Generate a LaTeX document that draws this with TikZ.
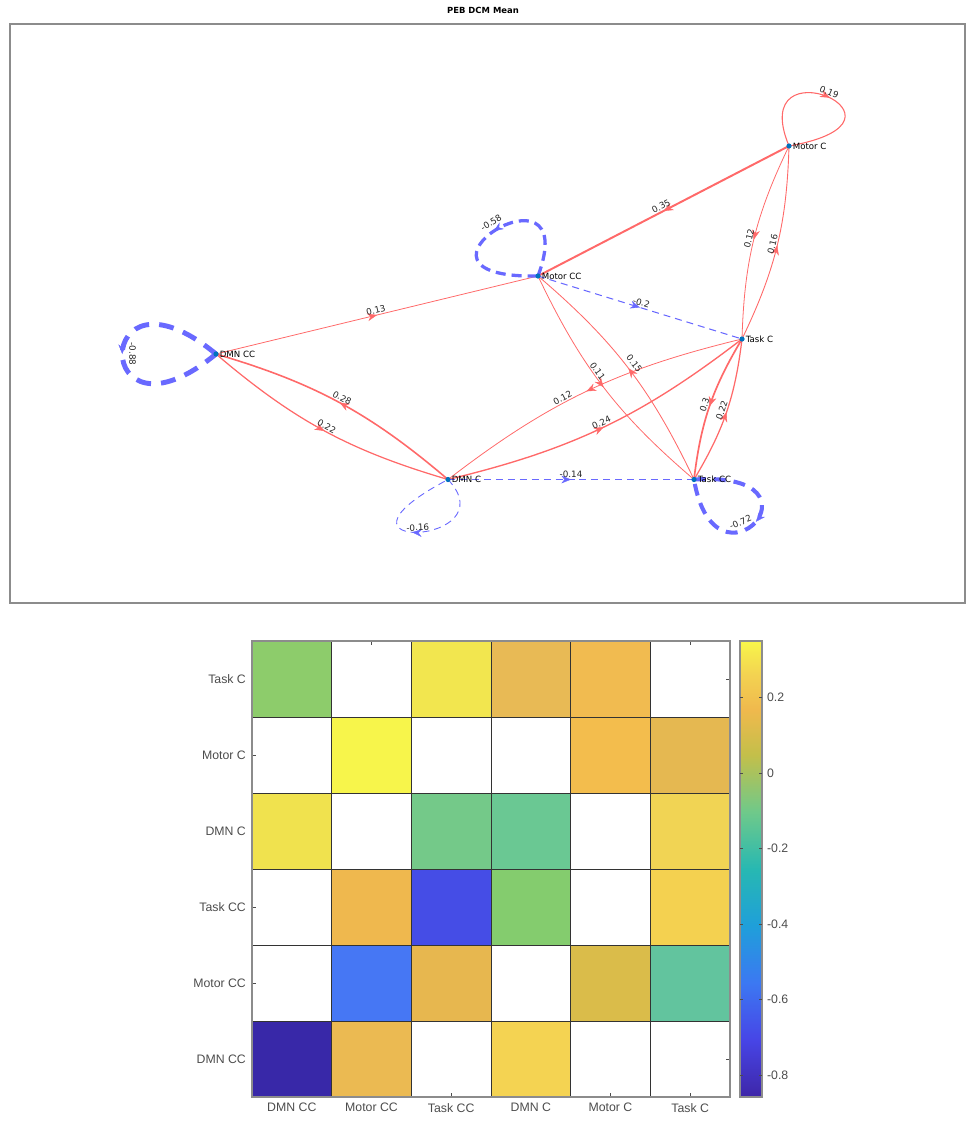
\documentclass[tikz,border=0pt]{standalone}
\usepackage{fontspec}
\setmainfont{DejaVu Sans}
\newfontfamily\axisfont{Liberation Sans}
\usetikzlibrary{positioning,arrows.meta,decorations.markings}

\definecolor{posred}{RGB}{255,105,105}
\definecolor{negblue}{RGB}{105,105,255}
\definecolor{dotblue}{rgb}{0,0.447,0.741}
\definecolor{framegray}{gray}{0.55}
\definecolor{ticktext}{gray}{0.3}
% parula stops
\definecolor{pa}{HTML}{3E26A8}
\definecolor{pb}{HTML}{4745E6}
\definecolor{pc}{HTML}{3C78F2}
\definecolor{pd}{HTML}{1F9FDA}
\definecolor{pe}{HTML}{27B8B2}
\definecolor{pf}{HTML}{6FC98A}
\definecolor{pg}{HTML}{C3BF4A}
\definecolor{ph}{HTML}{F0B94D}
\definecolor{pi}{HTML}{F3D251}
\definecolor{pj}{HTML}{F8F64A}

\tikzset{
  posedge/.style={draw=posred},
  negedge/.style={draw=negblue},
  midarrow/.style={postaction={decorate},
    decoration={markings,mark=at position 0.5 with {\arrow{Stealth[length=5.5pt,width=4.4pt,line width=0.2pt]}}}},
  dashthin/.style={dash pattern=on 4pt off 2.8pt},
  elabel/.style={font=\fontsize{5}{5}\selectfont, text=black!85, inner sep=0.6pt, sloped, above},
  nlabel/.style={font=\fontsize{4.9}{5}\selectfont, inner sep=0.5pt},
  axlabel/.style={font=\axisfont\fontsize{7}{8}\selectfont, text=ticktext, inner sep=1pt},
  tickmark/.style={draw=black!70, line width=0.4pt},
}

\begin{document}
\begin{tikzpicture}[x=0.02cm,y=0.02cm]
  \useasboundingbox (0,0) rectangle (966,-1123);

  % top panel
  \node[font=\bfseries\fontsize{4.8}{5}\selectfont] (title) at (483,-10) {PEB DCM Mean};
  \draw[framegray, line width=0.6pt] (10,-24) rectangle (965,-603);

  \coordinate (mc) at (789,-146);
  \coordinate (mcc) at (538,-276);
  \coordinate (tc) at (742,-339);
  \coordinate (dcc) at (216,-354);
  \coordinate (dc) at (448,-479.5);
  \coordinate (tcc) at (694,-479.5);

  % positive connections
  \draw[posedge, line width=1.12pt, midarrow] (mc) -- node[elabel] (e1) {0.35} (mcc);
  \draw[posedge, line width=0.45pt, midarrow] (mc) to[bend right=12] node[elabel] (e2) {0.12} (tc);
  \draw[posedge, line width=0.51pt, midarrow] (tc) to[bend right=12] node[elabel] (e3) {0.16} (mc);
  \draw[posedge, line width=0.45pt, midarrow] (dcc) -- node[elabel] (e4) {0.13} (mcc);
  \draw[posedge, line width=0.9pt, midarrow] (dc) to[bend right=12] node[elabel] (e5) {0.28} (dcc);
  \draw[posedge, line width=0.7pt, midarrow] (dcc) to[bend right=12] node[elabel] (e6) {0.22} (dc);
  \draw[posedge, line width=0.77pt, midarrow] (dc) to[bend right=12] node[elabel] (e7) {0.24} (tc);
  \draw[posedge, line width=0.45pt, midarrow] (tc) to[bend right=12] node[elabel, pos=.58] (e8) {0.12} (dc);
  \draw[posedge, line width=0.45pt, midarrow] (mcc) to[bend right=12] node[elabel, pos=.43] (e9) {0.11} (tcc);
  \draw[posedge, line width=0.48pt, midarrow] (tcc) to[bend right=12] node[elabel, pos=.5, above=1.5pt] (e10) {0.15} (mcc);
  \draw[posedge, line width=0.96pt, midarrow] (tc) to[bend right=12] node[elabel] (e11) {0.3} (tcc);
  \draw[posedge, line width=0.7pt, midarrow] (tcc) to[bend right=12] node[elabel] (e12) {0.22} (tc);
  \draw[posedge, line width=0.61pt, midarrow] (mc) .. controls +(-44,106) and +(146,26) .. (mc)
    node[elabel, pos=.5] (e13) {0.19};

  % negative connections
  \draw[negedge, dashthin, line width=0.6pt, midarrow] (mcc) -- node[elabel] (e14) {-0.2} (tc);
  \draw[negedge, dashthin, line width=0.65pt, midarrow] (dc) -- node[elabel] (e15) {-0.14} (tcc);
  \draw[negedge, dash pattern=on 5.7pt off 3.4pt, line width=1.86pt, midarrow] (mcc) .. controls +(47,126) and +(-160,-3) .. (mcc)
    node[elabel, pos=.5, above=1.5pt] (e16) {-0.58};
  \draw[negedge, dash pattern=on 8.5pt off 5.7pt, line width=2.8pt, midarrow] (dcc) .. controls +(-125,103) and +(-125,-103) .. (dcc)
    node[elabel, pos=.5, above=2pt] (e17) {-0.88};
  \draw[negedge, dashthin, line width=0.51pt, midarrow] (dc) .. controls +(62,-66) and +(-142,-75) .. (dc)
    node[elabel, pos=.5] (e18) {-0.16};
  \draw[negedge, dash pattern=on 6.8pt off 4.5pt, line width=2.3pt, midarrow] (tcc) .. controls +(142,9) and +(21,-124) .. (tcc)
    node[elabel, pos=.6, above=1.5pt] (e19) {-0.72};

  % regions
  \foreach \p in {mc,mcc,tc,dcc,dc,tcc}
    \fill[dotblue] (\p) circle (2.6);
  \node[nlabel, right=1.5pt of mc] (mclab) {Motor C};
  \node[nlabel, right=1.5pt of mcc] (mcclab) {Motor CC};
  \node[nlabel, right=1.5pt of tc] (tclab) {Task C};
  \node[nlabel, right=1.5pt of dcc] (dcclab) {DMN CC};
  \node[nlabel, right=1.5pt of dc] (dclab) {DMN C};
  \node[nlabel, right=1.5pt of tcc] (tcclab) {Task CC};

  % heatmap
  \def\cellw{79.67}
  \def\cellh{76}
  \foreach \i in {1,...,6} {
    \draw[tickmark] ({252+\cellw*(\i-0.5)},-1097) -- ++(0,4);
    \draw[tickmark] ({252+\cellw*(\i-0.5)},-641) -- ++(0,-4);
    \draw[tickmark] (252,{-641-\cellh*(\i-0.5)}) -- ++(4,0);
    \draw[tickmark] (730,{-641-\cellh*(\i-0.5)}) -- ++(-4,0);
  }
  \foreach \c/\r/\hx in {1/1/8DCC6B, 3/1/F2E64F, 4/1/E8BA55, 5/1/F1BB50,
      2/2/F7F54B, 5/2/F3BD4D, 6/2/E5B851,
      1/3/F0E24E, 3/3/74C989, 4/3/6AC893, 6/3/F1D454,
      2/4/EFB84E, 3/4/454DE6, 4/4/84CC6E, 6/4/F4D150,
      2/5/4677F4, 3/5/E7B74F, 5/5/DABC4A, 6/5/62C49E,
      1/6/3828A8, 2/6/EBBA52, 4/6/F4D352} {
    \definecolor{cellfill}{HTML}{\hx}
    \fill[cellfill] ({252+\cellw*(\c-1)},{-641-\cellh*(\r-1)}) rectangle ++(\cellw,-\cellh);
  }
  \foreach \i in {1,...,5} {
    \draw[black!80, line width=0.5pt] ({252+\cellw*\i},-641) -- ({252+\cellw*\i},-1097);
    \draw[black!80, line width=0.5pt] (252,{-641-\cellh*\i}) -- (730,{-641-\cellh*\i});
  }
  \draw[framegray, line width=0.6pt] (252,-641) rectangle (730,-1097);
  \foreach \name [count=\r] in {Task C, Motor C, DMN C, Task CC, Motor CC, DMN CC}
    \node[axlabel, anchor=east] (row\r) at (248,{-641-\cellh*(\r-0.5)}) {\name};
  \foreach \name [count=\c] in {DMN CC, Motor CC, Task CC, DMN C, Motor C, Task C}
    \node[axlabel, anchor=north] (col\c) at ({252+\cellw*(\c-0.5)},-1101) {\name};

  % colorbar
  \foreach \fa/\fb/\ca/\cb in {0/0.125/pa/pb, 0.125/0.25/pb/pc, 0.25/0.375/pc/pd,
      0.375/0.5/pd/pe, 0.5/0.625/pe/pf, 0.625/0.75/pf/pg, 0.75/0.85/pg/ph,
      0.85/0.925/ph/pi, 0.925/1/pi/pj}
    \shade[bottom color=\ca, top color=\cb] (740,{-1097+456*\fa}) rectangle (762,{-1097+456*\fb});
  \draw[framegray, line width=0.6pt] (740,-641) rectangle (762,-1097);
  \foreach \v/\lab [count=\k] in {0.2/0.2, 0/0, -0.2/-0.2, -0.4/-0.4, -0.6/-0.6, -0.8/-0.8} {
    \draw[tickmark] (762,{-773+377.5*\v}) -- ++(-3,0);
    \draw[tickmark] (740,{-773+377.5*\v}) -- ++(3,0);
    \node[axlabel, anchor=west] (cb\k) at (765,{-773+377.5*\v}) {\lab};
  }
\end{tikzpicture}
\end{document}
